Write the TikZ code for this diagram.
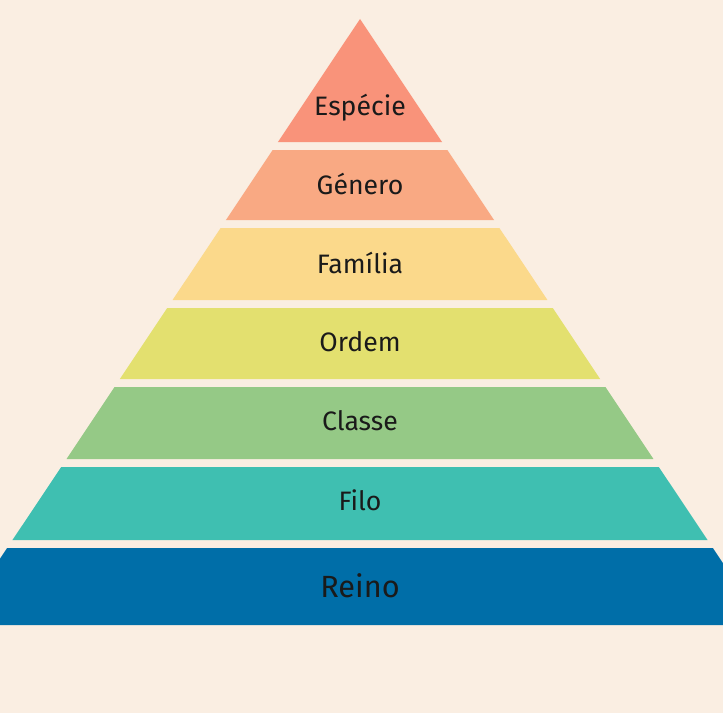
\documentclass[tikz,border=0pt]{standalone}
\usepackage{fontspec}
\setmainfont{Fira Sans}
\definecolor{bg}{HTML}{FAEEE2}
\definecolor{c1}{HTML}{F9937A}
\definecolor{c2}{HTML}{F9A983}
\definecolor{c3}{HTML}{FBD98B}
\definecolor{c4}{HTML}{E3E06F}
\definecolor{c5}{HTML}{95C986}
\definecolor{c6}{HTML}{3FBFB1}
\definecolor{c7}{HTML}{006EA8}
\definecolor{txt}{HTML}{1A1A1A}
\begin{document}
\begin{tikzpicture}[x=0.75pt,y=-0.75pt,
  lbl/.style={text=txt,font=\fontsize{20}{24}\selectfont}]
\fill[bg] (0,0) rectangle (723,713);
\useasboundingbox (0,0) rectangle (723,713);
\clip (0,0) rectangle (723,713);
% slope 0.667 px per px, apex (360,19)
\def\lay#1#2#3{%
  \pgfmathsetmacro\ha{max(0,(#1-19)*0.667)}%
  \pgfmathsetmacro\hb{(#2-19)*0.667}%
  \fill[#3] (360-\ha,#1) -- (360+\ha,#1) -- (360+\hb,#2) -- (360-\hb,#2) -- cycle;}
\lay{19}{142}{c1}
\lay{150}{220}{c2}
\lay{228}{300}{c3}
\lay{308}{379}{c4}
\lay{387}{459}{c5}
\lay{467}{540}{c6}
\lay{548}{625}{c7}
\node[lbl] (esp) at (360,108) {Espécie};
\node[lbl] (gen) at (360,184) {Género};
\node[lbl] (fam) at (360,263) {Família};
\node[lbl] (ord) at (360,342) {Ordem};
\node[lbl] (cla) at (360,421) {Classe};
\node[lbl] (fil) at (360,500) {Filo};
\node[lbl,font=\fontsize{23}{27}\selectfont] (rei) at (360,586) {Reino};
\end{tikzpicture}
\end{document}
